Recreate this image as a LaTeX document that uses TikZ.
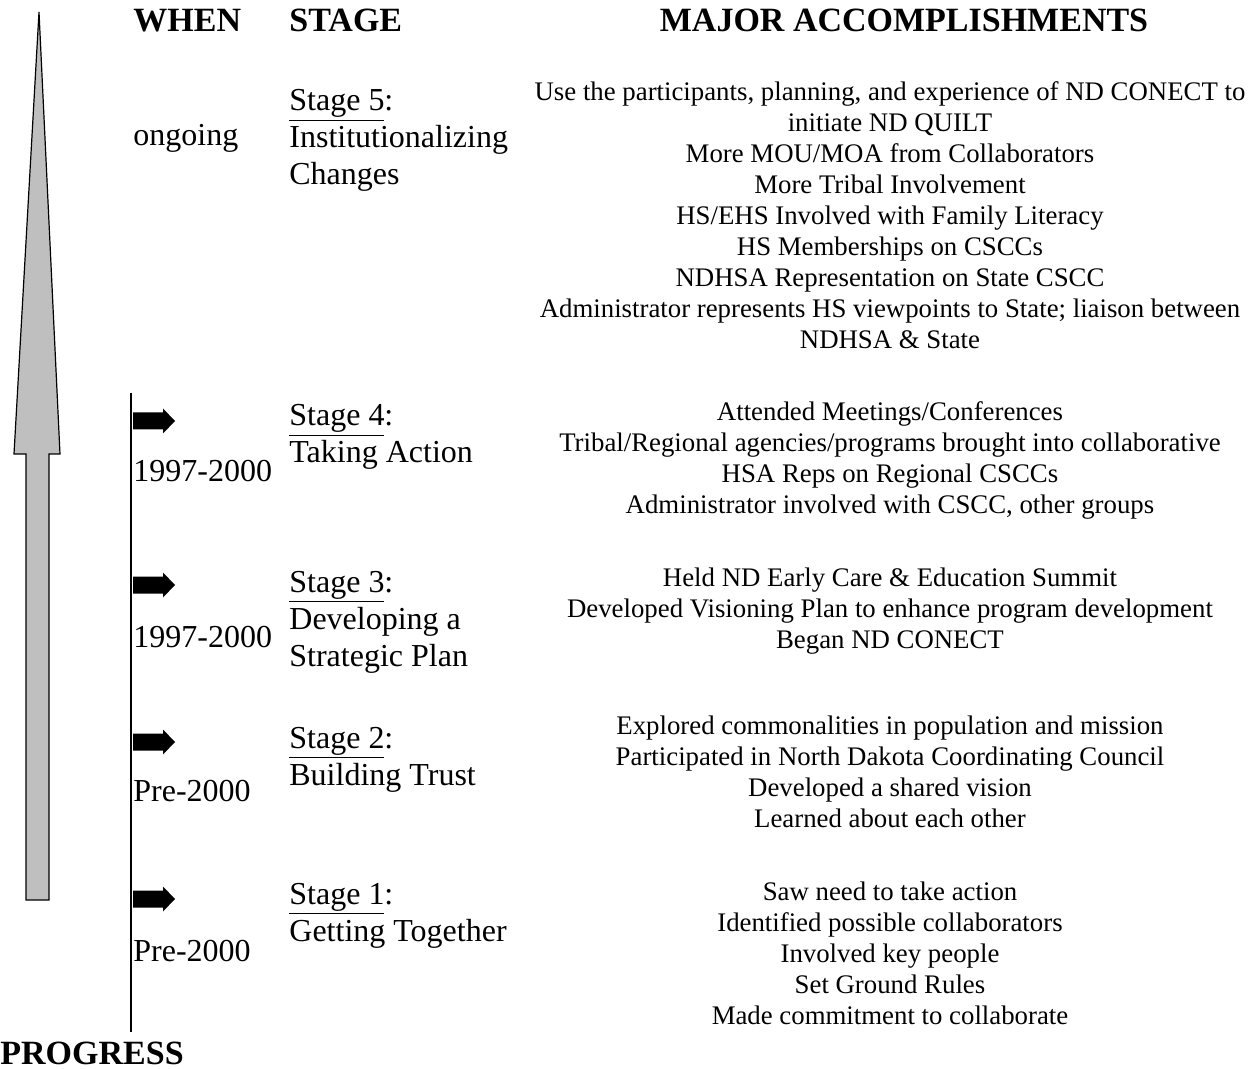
\documentclass[tikz,border=0pt]{standalone}
\usepackage{fontspec}
\setmainfont{Liberation Serif}
\tikzset{
  hd/.style={font=\fontsize{17}{19}\selectfont\bfseries, inner sep=0pt, anchor=base west},
  wh/.style={font=\fontsize{16}{18.5}\selectfont, inner sep=0pt, anchor=base west},
  st/.style={font=\fontsize{16}{18.5}\selectfont, inner sep=0pt, anchor=base west, align=left},
  acc/.style={font=\fontsize{13.4}{15.5}\selectfont, inner sep=0pt, anchor=base, align=center},
  bigarrow/.style={draw=black, line width=0.6pt, fill=black!25},
  stagearrow/.pic={\fill (0,-8.5) -- (30,-8.5) -- (30,-12.5) -- (42,0) -- (30,12.5) -- (30,8.5) -- (0,8.5) -- cycle;}
}
\begin{document}
\begin{tikzpicture}[x=0.5pt, y=-0.5pt]
	\useasboundingbox (0,0) rectangle (1258,1069);
	% progress arrow
	\draw[bigarrow] (39,12) -- (60,454) -- (49,454) -- (49,900) -- (26,900) -- (26,454) -- (14,454) -- cycle;
	\coordinate (ltop) at (131,393);
	\coordinate (lbot) at (131,1032);
	\draw[line width=1pt] (ltop) -- (lbot);
	
	% headers
	\node[hd] (when) at (133,32) {WHEN};
	\node[hd] (stage) at (289,32) {STAGE};
	\node[hd, anchor=base] (major) at (904,32) {MAJOR ACCOMPLISHMENTS};
	\node[hd] (progress) at (0,1064) {PROGRESS};
	
	% stage 5 (base = last line)
	\node[wh] (w5) at (133,146) {ongoing};
	\node[st] (s5) at (289,185) {\underline{Stage 5}:\\Institutionalizing\\Changes};
	\node[acc] (a5) at (890,349) {Use the participants, planning, and experience of ND CONECT to\\initiate ND QUILT\\More MOU/MOA from Collaborators\\More Tribal Involvement\\HS/EHS Involved with Family Literacy\\HS Memberships on CSCCs\\NDHSA Representation on State CSCC\\Administrator represents HS viewpoints to State; liaison between\\NDHSA \& State};
	
	% stage 4
	\pic (p4) at (133,421) {stagearrow};
	\node[wh] (w4) at (133,481) {1997-2000};
	\node[st] (s4) at (289,463) {\underline{Stage 4}:\\Taking Action};
	\node[acc] (a4) at (890,513) {Attended Meetings/Conferences\\Tribal/Regional agencies/programs brought into collaborative\\HSA Reps on Regional CSCCs\\Administrator involved with CSCC, other groups};
	
	% stage 3
	\pic (p3) at (133,585) {stagearrow};
	\node[wh] (w3) at (133,647) {1997-2000};
	\node[st] (s3) at (289,666) {\underline{Stage 3}:\\Developing a\\Strategic Plan};
	\node[acc] (a3) at (890,648) {Held ND Early Care \& Education Summit\\Developed Visioning Plan to enhance program development\\Began ND CONECT};
	
	% stage 2
	\pic (p2) at (133,742) {stagearrow};
	\node[wh] (w2) at (133,801) {Pre-2000};
	\node[st] (s2) at (289,785) {\underline{Stage 2}:\\Building Trust};
	\node[acc] (a2) at (890,827) {Explored commonalities in population and mission\\Participated in North Dakota Coordinating Council\\Developed a shared vision\\Learned about each other};
	
	% stage 1
	\pic (p1) at (133,899) {stagearrow};
	\node[wh] (w1) at (133,961) {Pre-2000};
	\node[st] (s1) at (289,941) {\underline{Stage 1}:\\Getting Together};
	\node[acc] (a1) at (890,1024) {Saw need to take action\\Identified possible collaborators\\Involved key people\\Set Ground Rules\\Made commitment to collaborate};
\end{tikzpicture}
\end{document}
